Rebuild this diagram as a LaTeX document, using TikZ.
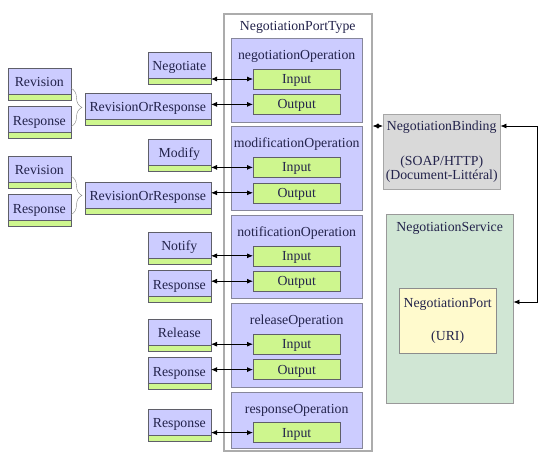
\documentclass[tikz,border=0pt]{standalone}
\usepackage{fontspec}
\setmainfont{Liberation Serif}
\usetikzlibrary{positioning,arrows.meta,decorations.pathreplacing}
\definecolor{lav}{RGB}{204,204,255}
\definecolor{lime}{RGB}{206,246,142}
\definecolor{ink}{RGB}{35,35,75}
\definecolor{boxedge}{RGB}{95,95,105}
\definecolor{opedge}{RGB}{135,135,155}
\definecolor{bindfill}{RGB}{217,217,217}
\definecolor{svcfill}{RGB}{208,230,212}
\definecolor{portfill}{RGB}{255,250,205}

\begin{document}
\begin{tikzpicture}
   [x=1pt,y=-1pt,
    every node/.style={font=\fontsize{13.8}{14}\selectfont, text=ink, inner sep=0pt},
    msg/.style={draw=boxedge, fill=lav, minimum width=#1, minimum height=32pt,
      anchor=north east, text height=10pt, text depth=5pt,
      path picture={
        \fill[lime] (path picture bounding box.south west) rectangle
          ([yshift=6pt]path picture bounding box.south east);
        \draw[boxedge] ([yshift=6pt]path picture bounding box.south west) --
          ([yshift=6pt]path picture bounding box.south east);}},
    msg/.default=63pt,
    op/.style={draw=opedge, fill=lav, minimum width=131pt, minimum height=83.5pt},
    io/.style={draw=boxedge, fill=lime, minimum width=87pt, minimum height=20pt,
      text height=11pt, text depth=2pt},
    title/.style={text height=10pt, text depth=3pt},
    arr/.style={{Latex[length=6pt,width=5pt]}-{Latex[length=6pt,width=5pt]}, line width=0.8pt}]
\useasboundingbox (0,0) rectangle (539,451);

% port type and its operations
\node [draw=gray!65, line width=1.5pt, fill=white, minimum width=148pt,
       minimum height=437pt, anchor=north west] (ptype) at (223,13) {};
\node [title] (ptypetitle) at ([yshift=-14pt]ptype.north) {NegotiationPortType};

\node [op, anchor=north west] (op1) at (231,38) {};
\node [op, below=4.5pt of op1] (op2) {};
\node [op, below=4.5pt of op2] (op3) {};
\node [op, below=4.5pt of op3] (op4) {};
\node [op, below=4.5pt of op4, minimum height=56pt] (op5) {};

\node [title] (op1title) at ([yshift=-18pt]op1.north) {negotiationOperation};
\node [title] (op2title) at ([yshift=-18pt]op2.north) {modificationOperation};
\node [title] (op3title) at ([yshift=-18pt]op3.north) {notificationOperation};
\node [title] (op4title) at ([yshift=-18pt]op4.north) {releaseOperation};
\node [title] (op5title) at ([yshift=-18pt]op5.north) {responseOperation};

\node [io] (in1) at ([yshift=-41pt]op1.north) {Input};
\node [io, below=5pt of in1] (out1) {Output};
\node [io] (in2) at ([yshift=-41pt]op2.north) {Input};
\node [io, below=5pt of in2] (out2) {Output};
\node [io] (in3) at ([yshift=-41pt]op3.north) {Input};
\node [io, below=5pt of in3] (out3) {Output};
\node [io] (in4) at ([yshift=-41pt]op4.north) {Input};
\node [io, below=5pt of in4] (out4) {Output};
\node [io] (in5) at ([yshift=-41pt]op5.north) {Input};

% messages
\node [msg] (neg) at (211,52) {Negotiate};
\node [msg=126pt] (ror1) at (211,93) {RevisionOrResponse};
\node [msg] (rev1) at (71,68) {Revision};
\node [msg, below=6pt of rev1] (resp1) {Response};
\node [msg] (mod) at (211,139) {Modify};
\node [msg=126pt] (ror2) at (211,182) {RevisionOrResponse};
\node [msg] (rev2) at (71,156) {Revision};
\node [msg, below=6pt of rev2] (resp2) {Response};
\node [msg] (noti) at (211,232) {Notify};
\node [msg, below=6pt of noti] (resp3) {Response};
\node [msg] (rel) at (211,319) {Release};
\node [msg, below=6pt of rel] (resp4) {Response};
\node [msg] (resp5) at (211,409) {Response};

\draw [decorate,decoration={brace,amplitude=11pt},gray] ([yshift=-4pt]rev1.east) -- ([yshift=-4pt]resp1.east);
\draw [decorate,decoration={brace,amplitude=11pt},gray] ([yshift=-4pt]rev2.east) -- ([yshift=-4pt]resp2.east);

\draw [arr] (in1 -| neg.east) -- (in1.west);
\draw [arr] (out1 -| ror1.east) -- (out1.west);
\draw [arr] (in2 -| mod.east) -- (in2.west);
\draw [arr] (out2 -| ror2.east) -- (out2.west);
\draw [arr] (in3 -| noti.east) -- (in3.west);
\draw [arr] (out3 -| resp3.east) -- (out3.west);
\draw [arr] (in4 -| rel.east) -- (in4.west);
\draw [arr] (out4 -| resp4.east) -- (out4.west);
\draw [arr] (in5 -| resp5.east) -- (in5.west);

% binding and service
\node [draw=gray!70, fill=bindfill, minimum width=117pt, minimum height=75pt, align=center,
       font=\fontsize{13.8}{12}\selectfont, anchor=north west] (binding) at (383,114)
       {NegotiationBinding\\[21pt](SOAP/HTTP)\\(Document-Littéral)};
\node [draw=gray!80, fill=svcfill, minimum width=127pt, minimum height=189pt,
       anchor=north west] (service) at (386,214) {};
\node [title] (svctitle) at ([yshift=-14pt]service.north) {NegotiationService};
\node [draw=gray!90, fill=portfill, minimum width=97pt, minimum height=65pt, align=center,
       anchor=north west] (port) at (399,288) {NegotiationPort\\[19pt](URI)};

\coordinate (bindin) at ([yshift=-12pt]binding.north west);
\coordinate (bindout) at ([yshift=-12pt]binding.north east);
\coordinate (svcin) at ([yshift=-88pt]service.north east);
\draw [arr] (bindin -| ptype.east) -- (bindin);
\draw [arr] (bindout) -- ++(37,0) |- (svcin);
\end{tikzpicture}
\end{document}
